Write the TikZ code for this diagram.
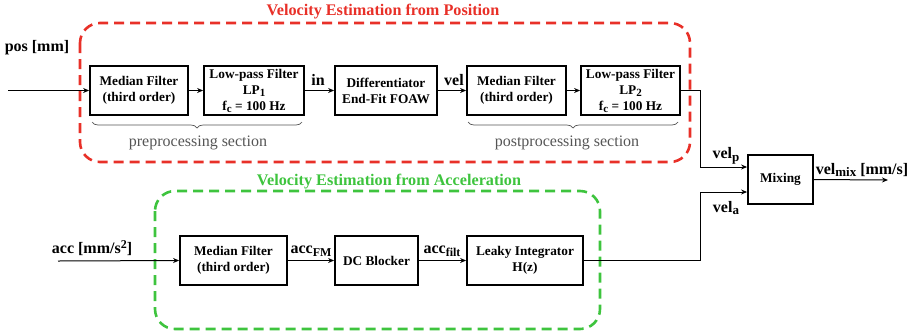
\documentclass[tikz,border=0pt]{standalone}
\usepackage{fontspec}
\setmainfont{Liberation Serif}
\usetikzlibrary{arrows.meta,decorations.pathreplacing,calc}
\definecolor{redd}{RGB}{232,48,40}
\definecolor{grn}{RGB}{62,196,62}
\definecolor{txtgray}{RGB}{85,85,85}
\newcommand{\mysub}[2]{\raisebox{-0.35ex}{\fontsize{#1}{#1}\selectfont #2}}
\newcommand{\mysup}[2]{\raisebox{0.6ex}{\fontsize{#1}{#1}\selectfont #2}}
\begin{document}
\begin{tikzpicture}[x=1pt,y=-1pt,
  blk/.style={draw,line width=1.8pt,align=center,inner sep=0pt,minimum height=49pt,font=\fontsize{13.3}{16}\selectfont\bfseries},
  lbl/.style={font=\fontsize{16}{18}\selectfont\bfseries,inner sep=0pt},
  conn/.style={line width=1pt,-{Stealth[length=6pt,width=5pt]}},
  grp/.style={dash pattern=on 10pt off 6pt,line width=2.6pt,rounded corners=20pt},
  brc/.style={decorate,decoration={brace,mirror,amplitude=6pt},draw=txtgray,line width=0.7pt},
  sect/.style={font=\fontsize{16}{18}\selectfont,text=txtgray,inner sep=0pt}]
\useasboundingbox (0,0) rectangle (915,333);
% group frames
\draw[grp,draw=redd] (80,23) rectangle (690,162);
\draw[grp,draw=grn] (155,191) rectangle (600,329);
\node[font=\fontsize{16.2}{18}\selectfont\bfseries,text=redd,inner sep=0pt] (t1) at (383,12) {Velocity Estimation from Position};
\node[font=\fontsize{16.2}{18}\selectfont\bfseries,text=grn,inner sep=0pt] (t2) at (389,182) {Velocity Estimation from Acceleration};
% blocks
\node[blk,minimum width=98pt] (mf1) at (139,90.5) {Median Filter\\(third order)};
\node[blk,minimum width=100pt] (lp1) at (254,90.5) {Low-pass Filter\\LP\mysub{11}{1}\\f\mysub{11}{c} = 100 Hz};
\node[blk,minimum width=102pt] (diff) at (386,90.5) {Differentiator\\End-Fit FOAW};
\node[blk,minimum width=99pt] (mf2) at (516.5,90.5) {Median Filter\\(third order)};
\node[blk,minimum width=99pt] (lp2) at (630.5,90.5) {Low-pass Filter\\LP\mysub{11}{2}\\f\mysub{11}{c} = 100 Hz};
\node[blk,minimum width=65pt] (mix) at (780.5,179.5) {Mixing};
\node[blk,minimum width=107pt] (mf3) at (233.5,260.5) {Median Filter\\(third order)};
\node[blk,minimum width=83pt] (dc) at (376.5,260.5) {DC Blocker};
\node[blk,minimum width=116pt] (li) at (525,260.5) {Leaky Integrator\\H(z)};
% free ends
\coordinate (posin) at (8,90.5);
\coordinate (accin) at (58,261);
\coordinate (out) at (888,180);
% labels
\node[lbl] (lpos) at (37,48) {pos [mm]};
\node[lbl] (lin) at (318,80) {in};
\node[lbl] (lvel) at (454,80) {vel};
\node[lbl] (lacc) at (92,248) {acc [mm/s\mysup{12}{2}]};
\node[lbl] (lfm) at (311,251) {acc\mysub{12}{FM}};
\node[lbl] (lfilt) at (442,251) {acc\mysub{12}{filt}};
\node[lbl] (lvp) at (726,156) {vel\mysub{13}{p}};
\node[lbl] (lva) at (726,208) {vel\mysub{13}{a}};
\node[lbl] (lvm) at (862,170) {vel\mysub{13}{mix} [mm/s]};
% connectors
\draw[conn] (posin) -- (mf1.west);
\draw[conn] (mf1.east) -- (lp1.west);
\draw[conn] (lp1.east) -- (diff.west);
\draw[conn] (diff.east) -- (mf2.west);
\draw[conn] (mf2.east) -- (lp2.west);
\draw[conn] (lp2.east) -- ++(20,0) |- ([yshift=12.5pt]mix.west);
\draw[conn] (accin) -- (mf3.west);
\draw[conn] (mf3.east) -- (dc.west);
\draw[conn] (dc.east) -- (li.west);
\draw[conn] (li.east) -- ++(117,0) |- ([yshift=-12.5pt]mix.west);
\draw[conn] (mix.east) -- (out);
% braces
\draw[brc] (92,122) -- (302,122);
\node[sect] (pre) at (198,143) {preprocessing section};
\draw[brc] (468,122) -- (678,122);
\node[sect] (post) at (567,143) {postprocessing section};
\end{tikzpicture}
\end{document}
